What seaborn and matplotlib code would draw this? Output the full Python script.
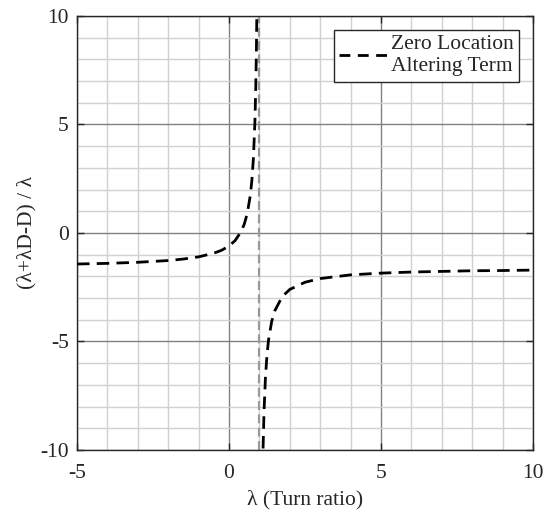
import numpy as np
import pandas as pd
import seaborn as sns
import matplotlib
matplotlib.use("Agg")
import matplotlib.pyplot as plt
from matplotlib.ticker import MultipleLocator
from matplotlib.lines import Line2D

# ---- data ----
left_lam = [-5, -4, -3, -2, -1.5, -1, -0.5, -0.25, 0, 0.2, 0.4, 0.5, 0.6, 0.7,
            0.75, 0.8, 0.85, 0.88, 0.9, 0.914]
left_val = [-1.43, -1.40, -1.35, -1.27, -1.20, -1.10, -0.93, -0.80, -0.60, -0.35,
            0.07, 0.40, 0.90, 1.73, 2.40, 3.40, 5.07, 6.73, 8.40, 10.0]
right_lam = [1.12, 1.15, 1.2, 1.25, 1.3, 1.4, 1.5, 1.75, 2, 2.5, 3, 4, 5, 6, 7, 8, 9, 10]
right_val = [-9.93, -8.27, -6.60, -5.60, -4.93, -4.10, -3.60, -2.93, -2.60, -2.27,
             -2.10, -1.93, -1.85, -1.80, -1.77, -1.74, -1.73, -1.71]
pole_lam = 1.0
legend_label = "Zero Location\nAltering Term"
x_label = "λ (Turn ratio)"
y_label = "(λ+λD-D) / λ"
x_ticks = [-5, 0, 5, 10]
y_ticks = [-10, -5, 0, 5, 10]

df = pd.DataFrame({
    "lam": left_lam + right_lam,
    "val": left_val + right_val,
    "branch": ["left"] * len(left_lam) + ["right"] * len(right_lam),
})

sns.set_style("ticks")
plt.rcParams["font.family"] = ["Liberation Serif", "DejaVu Serif"]
plt.rcParams["font.size"] = 15.5
plt.rcParams["axes.unicode_minus"] = False

fs = 15.5
fig = plt.figure(figsize=(5.49, 5.17), dpi=100)
ax = fig.add_axes([0.1403, 0.1296, 0.8306, 0.8395])

dash = (0, (4.5, 2.6))
ax.axvline(pole_lam, color="0.6", lw=1.6, linestyle=(0, (4, 2)), zorder=2)
sns.lineplot(data=df, x="lam", y="val", units="branch", estimator=None, sort=False,
             color="black", linewidth=2, linestyle=dash, ax=ax, zorder=3, legend=False)

ax.set_xlim(-5, 10)
ax.set_ylim(-10, 10)
ax.set_xticks(x_ticks)
ax.set_yticks(y_ticks)
ax.xaxis.set_minor_locator(MultipleLocator(1))
ax.yaxis.set_minor_locator(MultipleLocator(1))
ax.set_axisbelow(True)
ax.grid(which="major", color="0.5", lw=1.0)
ax.grid(which="minor", color="0.82", lw=1.0)
ax.tick_params(which="major", direction="in", length=5, width=1, top=True, right=True,
               labelsize=fs, color="0.15")
ax.tick_params(axis="x", which="major", pad=10)
ax.tick_params(axis="y", which="major", pad=6)
ax.tick_params(which="minor", length=0)
for s in ax.spines.values():
    s.set_visible(True)
    s.set_color("0.15")
    s.set_linewidth(1.0)

ax.set_xlabel(x_label, fontsize=fs, labelpad=5)
ax.set_ylabel(y_label, fontsize=fs, labelpad=2.5)

handle = Line2D([], [], color="black", linewidth=2.0, linestyle=(0, (3.9, 2.7)))
leg = ax.legend([handle], [legend_label], loc="upper right", fontsize=fs,
                frameon=True, fancybox=False, edgecolor="0.15", framealpha=1,
                handlelength=2.2, handletextpad=0.2, borderpad=0.25,
                borderaxespad=0.65, labelspacing=0.1)
leg.get_frame().set_linewidth(1.0)

fig.savefig("out.png", dpi=100)
